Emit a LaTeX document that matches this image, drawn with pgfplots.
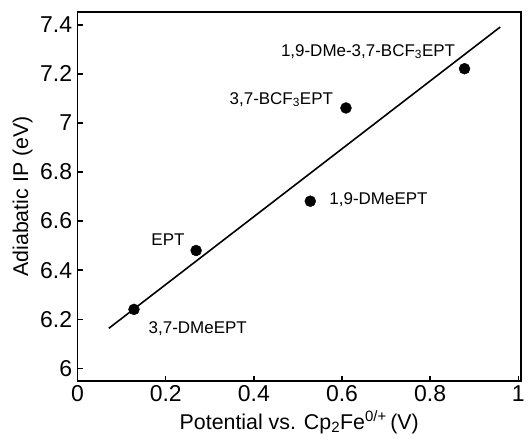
\documentclass[border=0pt]{standalone}
\usepackage{fontspec}
\setmainfont{Liberation Sans}
\usepackage{pgfplots}
\pgfplotsset{compat=1.18}

\begin{document}
\begin{tikzpicture}
\begin{axis}[
    scale only axis,
    width=444pt,
    height=370pt,
    xmin=0, xmax=1.006,
    ymin=5.947, ymax=7.453,
    xtick={0,0.2,0.4,0.6,0.8,1},
    ytick={6,6.2,6.4,6.6,6.8,7,7.2,7.4},
    xticklabels={0,0.2,0.4,0.6,0.8,1},
    yticklabels={6,6.2,6.4,6.6,6.8,7,7.2,7.4},
    tick align=inside,
    xtick pos=bottom,
    ytick pos=left,
    major tick length=5pt,
    tick style={line width=1.4pt, black},
    axis line style={line width=1.8pt},
    tick label style={font=\fontsize{23}{25}\selectfont},
    yticklabel style={xshift=-2pt},
    xticklabel style={yshift=-1pt},
    /pgf/number format/assume math mode=true,
    xlabel={Potential vs. Cp\textsubscript{2}Fe\textsuperscript{0/+}\,(V)},
    ylabel={Adiabatic IP (eV)},
    xlabel style={at={(axis description cs:0.5,-0.079)}, anchor=north,
        font=\fontsize{21.4}{24}\selectfont, inner sep=0pt},
    ylabel style={at={(axis description cs:-0.101,0.5)}, anchor=south,
        font=\fontsize{21.4}{24}\selectfont, inner sep=0pt},
    clip=false,
]
\addplot[only marks, mark=*, mark size=5.5pt, black] coordinates {
    (0.128, 6.240)
    (0.269, 6.480)
    (0.528, 6.681)
    (0.609, 7.061)
    (0.878, 7.221)
};
\addplot[line width=1.6pt, black] coordinates {
    (0.071, 6.163)
    (0.959, 7.391)
};
\begin{scope}[every node/.style={font=\fontsize{17}{19}\selectfont, inner sep=0pt}]
\node[anchor=east] at (axis cs:0.857, 7.291) {1,9-DMe-3,7-BCF\textsubscript{3}EPT};
\node[anchor=east] at (axis cs:0.580, 7.095) {3,7-BCF\textsubscript{3}EPT};
\node[anchor=west] at (axis cs:0.571, 6.688) {1,9-DMeEPT};
\node[anchor=east] at (axis cs:0.243, 6.525) {EPT};
\node[anchor=west] at (axis cs:0.161, 6.163) {3,7-DMeEPT};
\end{scope}
\path (axis description cs:-0.175,1.032) (axis description cs:1.0135,-0.165);
\end{axis}
\end{tikzpicture}
\end{document}
